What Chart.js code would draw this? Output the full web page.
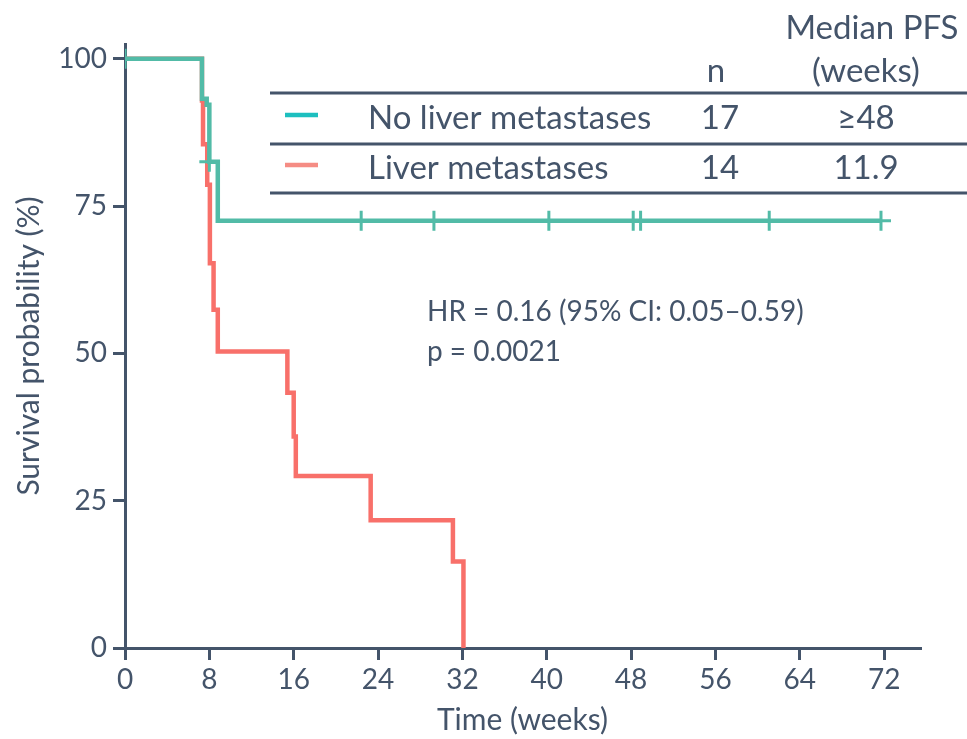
<!DOCTYPE html>
<html lang="en">
<head>
<meta charset="utf-8" />
<title>PFS by liver metastases</title>
<script src="https://cdn.jsdelivr.net/npm/chart.js"></script>
<style>
    html, body { margin: 0; padding: 0; background: #fff; }
    #wrap { width: 967px; height: 739px; }
</style>
</head>
<body>
<div id="wrap"><canvas id="km"></canvas></div>
<script>
    // Kaplan-Meier steps, time in weeks, survival in %
    var noLiverTime = [0, 7.3, 7.75, 8.0, 8.8, 71.7];
    var noLiverSurv = [100, 93.2, 92.2, 82.5, 72.5, 72.5];
    var noLiverCensorTime = [0, 8.0, 22.4, 29.3, 40.2, 48.2, 48.9, 61.1, 71.7];
    var noLiverCensorSurv = [100, 82.5, 72.5, 72.5, 72.5, 72.5, 72.5, 72.5, 72.5];

    var liverTime = [0, 7.3, 7.4, 7.8, 8.05, 8.4, 8.8, 15.4, 16.0, 16.2, 23.3, 31.1, 32.1];
    var liverSurv = [100, 92.9, 85.5, 78.6, 65.3, 57.4, 50.3, 43.3, 35.9, 29.2, 21.7, 14.7, 0];

    var xTicks = [0, 8, 16, 24, 32, 40, 48, 56, 64, 72];
    var yTicks = [0, 25, 50, 75, 100];

    var groupNames = ['No liver metastases', 'Liver metastases'];
    var groupN = ['17', '14'];
    var groupMedian = ['\u226548', '11.9'];
    var statsText = ['HR = 0.16 (95% CI: 0.05\u20130.59)', 'p = 0.0021'];

    var axisColor = '#44546A';
    var green = '#52BBA7';
    var red = '#F8706A';
    var legendColors = ['#1DBFBF', '#F58C84'];
    var fontFamily = "Lato, 'Open Sans', sans-serif";

    function toPoints(xs, ys) {
        var pts = [];
        for (var i = 0; i < xs.length; i++) {
            pts.push({ x: xs[i], y: ys[i] });
        }
        return pts;
    }

    // table + stats text drawn on top of the plot
    var annotations = {
        id: 'annotations',
        afterDraw: function (chart) {
            var ctx = chart.ctx;
            ctx.save();
            ctx.fillStyle = axisColor;
            ctx.textBaseline = 'middle';

            ctx.font = '33px ' + fontFamily;
            ctx.textAlign = 'center';
            ctx.fillText('Median PFS', 872, 28);
            ctx.fillText('(weeks)', 866, 71);
            ctx.fillText('n', 716, 71);

            var rowY = [118, 168];
            for (var i = 0; i < groupNames.length; i++) {
                ctx.textAlign = 'left';
                ctx.fillText(groupNames[i], 368, rowY[i]);
                ctx.textAlign = 'center';
                ctx.fillText(groupN[i], 720, rowY[i]);
                ctx.fillText(groupMedian[i], 866, rowY[i]);

                ctx.strokeStyle = legendColors[i];
                ctx.lineWidth = 4.5;
                ctx.beginPath();
                ctx.moveTo(285, rowY[i] - 3);
                ctx.lineTo(318, rowY[i] - 3);
                ctx.stroke();
            }

            ctx.strokeStyle = axisColor;
            ctx.lineWidth = 3;
            [93, 144, 193].forEach(function (y) {
                ctx.beginPath();
                ctx.moveTo(270, y);
                ctx.lineTo(967, y);
                ctx.stroke();
            });

            ctx.font = '28px ' + fontFamily;
            ctx.textAlign = 'left';
            ctx.fillText(statsText[0], 427, 312);
            ctx.fillText(statsText[1], 427, 352);
            ctx.restore();
        }
    };

    var tickFont = { family: fontFamily, size: 28 };
    var titleFont = { family: fontFamily, size: 30 };

    new Chart(document.getElementById('km'), {
        type: 'line',
        data: {
            datasets: [{
                data: toPoints(noLiverTime, noLiverSurv),
                borderColor: green,
                borderWidth: 4.5,
                stepped: true,
                pointRadius: 0,
                fill: false
            }, {
                data: toPoints(noLiverCensorTime, noLiverCensorSurv),
                showLine: false,
                pointStyle: 'cross',
                pointRadius: 10,
                pointBorderWidth: 3,
                pointBorderColor: green,
                borderColor: green
            }, {
                data: toPoints(liverTime, liverSurv),
                borderColor: red,
                borderWidth: 4.5,
                stepped: true,
                pointRadius: 0,
                fill: false
            }]
        },
        options: {
            responsive: true,
            maintainAspectRatio: false,
            animation: false,
            events: [],
            layout: { padding: { top: 44, right: 47, left: 0, bottom: 0 } },
            plugins: {
                legend: { display: false },
                tooltip: { enabled: false }
            },
            scales: {
                x: {
                    type: 'linear',
                    min: 0,
                    max: 75.4,
                    afterBuildTicks: function (s) {
                        s.ticks = xTicks.map(function (v) { return { value: v }; });
                    },
                    afterFit: function (s) { s.height = 91; },
                    ticks: { font: tickFont, color: axisColor, padding: 3, maxRotation: 0 },
                    grid: { drawOnChartArea: false, tickLength: 12, lineWidth: 3, color: axisColor },
                    border: { color: axisColor, width: 3 },
                    title: { display: true, text: 'Time (weeks)', font: titleFont, color: axisColor, padding: { top: 0, bottom: 1 } }
                },
                y: {
                    min: 0,
                    max: 102.5,
                    afterBuildTicks: function (s) {
                        s.ticks = yTicks.map(function (v) { return { value: v }; });
                    },
                    afterFit: function (s) { s.width = 125; },
                    ticks: { font: tickFont, color: axisColor, padding: 6 },
                    grid: { drawOnChartArea: false, tickLength: 12, lineWidth: 3, color: axisColor },
                    border: { color: axisColor, width: 3 },
                    title: { display: true, text: 'Survival probability (%)', font: titleFont, color: axisColor, padding: { top: 11, bottom: 0 } }
                }
            }
        },
        plugins: [annotations]
    });
</script>
</body>
</html>
